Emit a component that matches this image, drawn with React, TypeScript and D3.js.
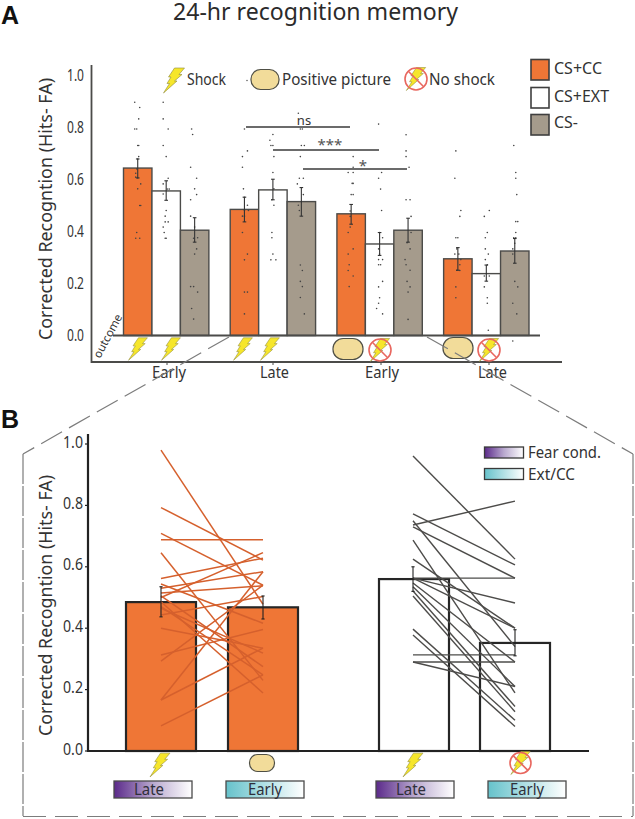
import React from "react";
import * as d3 from "d3";

const groupsA = ["Early", "Late", "Early", "Late"];
const seriesA = ["CS+CC", "CS+EXT", "CS-"];
const valuesCC = [0.644, 0.485, 0.468, 0.295];
const valuesEXT = [0.556, 0.56, 0.352, 0.238];
const valuesMinus = [0.405, 0.515, 0.405, 0.325];
const errCC = [[0.606, 0.679], [0.437, 0.532], [0.428, 0.504], [0.251, 0.338]];
const errEXT = [[0.52, 0.595], [0.522, 0.601], [0.308, 0.396], [0.209, 0.271]];
const errMinus = [[0.359, 0.453], [0.459, 0.569], [0.359, 0.451], [0.278, 0.373]];
const yTicks = [0, 0.2, 0.4, 0.6, 0.8, 1];

// scattered subjects: [horizontal jitter, value]
const dotsCC1 = [[-3,.897],[2,.877],[1,.833],[-3,.794],[-1,.794],[0,.731],[1,.731],[1,.688],[0,.679],[-1,.641],[-2,.624],[-2,.609],[0,.606],[3,.583],[0,.564],[2,.5],[3,.5],[-1,.396],[-2,.374],[2,.374]];
const dotsEXT1 = [[-3,.897],[-3,.833],[2,.794],[-3,.731],[0,.688],[2,.605],[-3,.583],[1,.563],[3,.563],[-3,.544],[0,.481],[-1,.459],[-1,.437],[2,.437],[-3,.417],[-2,.396],[-1,.374],[0,.374]];
const dotsMin1 = [[-3,.794],[-2,.773],[-4,.647],[2,.605],[0,.564],[2,.542],[-4,.522],[-4,.459],[0,.417],[3,.376],[-1,.374],[2,.333],[0,.313],[-4,.188],[-1,.188],[3,.167],[-3,.104],[-1,.063]];
const dotsCC2 = [[0,.794],[3,.71],[-2,.688],[-2,.647],[-1,.564],[0,.532],[3,.501],[0,.481],[4,.481],[-2,.459],[0,.459],[-2,.396],[3,.313],[0,.291],[0,.167],[3,.167],[0,.083]];
const dotsEXT2 = [[0,.773],[-3,.751],[-2,.731],[0,.731],[1,.688],[0,.627],[1,.564],[-1,.522],[1,.501],[-1,.396],[-1,.376],[0,.313],[-2,.291],[3,.291]];
const dotsMin2 = [[-3,.855],[-1,.794],[1,.794],[0,.731],[3,.731],[-1,.688],[-2,.605],[2,.605],[-4,.583],[2,.542],[-3,.501],[-2,.481],[-1,.271],[1,.25],[-1,.208],[1,.188],[-1,.146],[3,.083]];
const dotsCC3 = [[2,.688],[2,.647],[-3,.627],[2,.627],[1,.585],[2,.585],[0,.542],[2,.542],[-1,.479],[-1,.458],[-1,.417],[-3,.396],[2,.333],[-3,.313],[-2,.272],[-3,.25],[2,.229],[-2,.188]];
const dotsEXT3 = [[-1,.813],[2,.627],[-1,.605],[1,.563],[2,.481],[0,.396],[3,.376],[-1,.333],[0,.313],[-1,.292],[3,.292],[-1,.272],[1,.272],[3,.208],[-1,.187],[0,.145],[-1,.124],[-3,.104],[3,.083]];
const dotsMin3 = [[-2,.772],[-2,.71],[-2,.688],[1,.647],[-2,.522],[2,.522],[3,.458],[3,.396],[-1,.357],[2,.333],[-3,.292],[-2,.272],[2,.251],[-1,.208],[2,.187],[0,.167],[0,.062]];
const dotsCC4 = [[-2,.71],[-3,.605],[3,.481],[2,.458],[-2,.376],[0,.376],[-1,.333],[-3,.313],[1,.313],[3,.292],[2,.272],[-1,.251],[2,.25],[-2,.187],[-2,.145]];
const dotsEXT4 = [[3,.481],[-2,.458],[1,.396],[-1,.376],[-1,.333],[2,.313],[-1,.292],[1,.272],[3,.229],[-2,.229],[-2,.187],[1,.145],[1,.124],[2,.02]];
const dotsMin4 = [[-1,.731],[1,.627],[1,.605],[2,.542],[1,.438],[3,.438],[1,.396],[-1,.376],[1,.376],[0,.355],[-2,.333],[-2,.313],[0,.208],[3,.187],[-2,.124],[2,.083],[-2,-.021]];

const barsB = ["Late", "Early", "Late", "Early"];
const meansB = [0.485, 0.468, 0.56, 0.352];
const errsB = [[0.437, 0.535], [0.43, 0.505], [0.52, 0.6], [0.31, 0.395]];
const orangePairs = [[.98,.478],[.793,.622],[.709,.54],[.688,.688],[.646,.23],[.562,.628],[.544,.416],[.53,.584],[.515,.538],[.505,.275],[.5,.646],[.486,.189],[.47,.248],[.465,.319],[.443,.503],[.40,.335],[.313,.396],[.293,.54],[.166,.584],[.166,.335],[.082,.248]];
const grayPairs = [[.961,.625],[.772,.606],[.75,.34],[.736,.814],[.73,.563],[.687,.189],[.625,.40],[.563,.563],[.563,.482],[.563,.40],[.547,.29],[.535,.21],[.521,.145],[.505,.128],[.397,.10],[.378,.08],[.313,.313],[.29,.29],[.29,.21]];

const sigLabels = ["ns", "***", "*"];

const FONT = "'Noto Sans', sans-serif";
const ORANGE = "#EF7636";
const TAUPE = "#A59B8C";
const EDGE = "#4b4b49";
const TEXT = "#333333";

const yA = d3.scaleLinear().domain([0, 1]).range([335.5, 75.5]);
const yB = d3.scaleLinear().domain([0, 1]).range([751, 444]);
const groupX = d3.scaleBand<number>().domain(d3.range(4)).range([123.5, 529]).paddingInner(0.2).paddingOuter(0);
const seriesX = d3.scaleBand<string>().domain(seriesA).range([0, groupX.bandwidth()]);
const barXB = d3.scaleOrdinal<number, number>().domain([0, 1, 2, 3]).range([126, 228, 379, 480]);
const lineXB = d3.scaleOrdinal<number, number>().domain([0, 1, 2, 3]).range([161, 263, 413, 515]);
const pairLine = d3.line<[number, number]>();

const Bolt = ({ cx, cy, s = 1 }: { cx: number; cy: number; s?: number }) => (
  <path
    transform={`translate(${cx},${cy}) scale(${s}) translate(-10.5,-12.5)`}
    d="M11,0 L21,0 L15.5,6.5 L18.5,6.5 L11,13 L13.5,13 L0,25 L6,15.5 L3.5,15.5 L7.5,9 L5,9 Z"
    fill="#F6E62B"
    stroke="#8f8a3a"
    strokeWidth={0.6}
  />
);
const Oval = ({ cx, cy, w, h }: { cx: number; cy: number; w: number; h: number }) => (
  <rect x={cx - w / 2} y={cy - h / 2} width={w} height={h} rx={h * 0.48} fill="#F2DC9A" stroke="#4f4f45" strokeWidth={1.2} />
);
const NoShock = ({ cx, cy, r = 11 }: { cx: number; cy: number; r?: number }) => (
  <g>
    <Bolt cx={cx} cy={cy} s={0.92} />
    <circle cx={cx} cy={cy} r={r} fill="none" stroke="#E8675F" strokeWidth={1.6} />
    <line x1={cx - r * 0.7} y1={cy - r * 0.7} x2={cx + r * 0.7} y2={cy + r * 0.7} stroke="#E8675F" strokeWidth={1.6} />
  </g>
);
const ErrBar = ({ x, lo, hi, c = "#333", cap = 1.8 }: { x: number; lo: number; hi: number; c?: string; cap?: number }) => (
  <g stroke={c} strokeWidth={1.1}>
    <line x1={x} x2={x} y1={lo} y2={hi} />
    <line x1={x - cap} x2={x + cap} y1={lo} y2={lo} />
    <line x1={x - cap} x2={x + cap} y1={hi} y2={hi} />
  </g>
);
const Fit = ({ w, ...p }: any) => <text textLength={w} lengthAdjust="spacingAndGlyphs" {...p} />;

export default function App() {
  const valuesA = [valuesCC, valuesEXT, valuesMinus];
  const errsA = [errCC, errEXT, errMinus];
  const fills = [ORANGE, "#ffffff", TAUPE];
  const dotsA = [
    [dotsCC1, dotsEXT1, dotsMin1],
    [dotsCC2, dotsEXT2, dotsMin2],
    [dotsCC3, dotsEXT3, dotsMin3],
    [dotsCC4, dotsEXT4, dotsMin4],
  ];
  return (
    <svg width={635} height={819} style={{ position: "absolute", left: 0, top: 0, background: "#fff" }} fontFamily={FONT}>
      <defs>
        <linearGradient id="gPurple"><stop offset="0" stopColor="#5B2A8A" /><stop offset="0.5" stopColor="#B9A9CF" /><stop offset="1" stopColor="#ffffff" /></linearGradient>
        <linearGradient id="gTeal"><stop offset="0" stopColor="#66C2CB" /><stop offset="1" stopColor="#ffffff" /></linearGradient>
      </defs>

      <text x={1} y={24} fontFamily="'Liberation Sans', sans-serif" fontWeight="bold" fontSize={25} fill="#111">A</text>
      <text x={1} y={428} fontFamily="'Liberation Sans', sans-serif" fontWeight="bold" fontSize={25} fill="#111">B</text>
      <Fit x={173} y={20} w={285} fontSize={23} fill="#2b2b2b">24-hr recognition memory</Fit>

      {/* Panel A axes */}
      <path d="M91.5,65 V362 H562" fill="none" stroke={EDGE} strokeWidth={1.8} />
      {yTicks.map((t) => (
        <Fit key={t} x={67} y={yA(t) + 5} w={17} fontSize={16} fill={TEXT}>{t.toFixed(1)}</Fit>
      ))}
      <Fit transform="translate(52,340) rotate(-90)" x={0} y={0} w={262} fontSize={18} fill={TEXT}>Corrected Recogntion (Hits- FA)</Fit>

      {/* Panel A bars */}
      {groupsA.map((g, gi) =>
        seriesA.map((s, si) => (
          <rect key={`${gi}${s}`} x={groupX(gi)! + seriesX(s)!} y={yA(valuesA[si][gi])} width={seriesX.bandwidth()} height={yA(0) - yA(valuesA[si][gi])} fill={fills[si]} stroke={EDGE} strokeWidth={1.4} />
        ))
      )}
      <line x1={113} x2={540} y1={yA(0)} y2={yA(0)} stroke={EDGE} strokeWidth={2} />
      {groupsA.map((g, gi) =>
        seriesA.map((s, si) => {
          const cx = groupX(gi)! + seriesX(s)! + seriesX.bandwidth() / 2;
          return (
            <g key={`${gi}${s}d`}>
              {dotsA[gi][si].map((d, i) => (
                <circle key={i} cx={cx + d[0]} cy={yA(d[1])} r={0.8} fill="#444" />
              ))}
              <ErrBar x={cx} lo={yA(errsA[si][gi][0])} hi={yA(errsA[si][gi][1])} />
            </g>
          );
        })
      )}
      {groupsA.map((g, gi) => {
        const tx = [167, 273, 381, 489][gi];
        const lx = [152, 260, 365, 478][gi];
        return (
          <g key={gi}>
            <line x1={tx} x2={tx} y1={362} y2={365} stroke={EDGE} />
            <Fit x={lx} y={378} w={g === "Early" ? 34 : 29} fontSize={16} fill={TEXT}>{g}</Fit>
          </g>
        );
      })}
      <text transform="translate(100,359) rotate(-62)" fontSize={11.5} fill={TEXT}>outcome</text>

      {/* significance */}
      <line x1={246} x2={350} y1={127} y2={127} stroke="#3a3a3a" strokeWidth={1.6} />
      <line x1={273} x2={379} y1={150} y2={150} stroke="#3a3a3a" strokeWidth={1.6} />
      <line x1={303} x2={407} y1={169} y2={169} stroke="#3a3a3a" strokeWidth={1.6} />
      <text x={304} y={125} textAnchor="middle" fontSize={13} fill={TEXT}>{sigLabels[0]}</text>
      <text x={330} y={150} textAnchor="middle" fontSize={15} fill="#555">{sigLabels[1]}</text>
      <text x={363} y={171} textAnchor="middle" fontSize={15} fill="#555">{sigLabels[2]}</text>

      {/* Panel A icons */}
      <Bolt cx={174} cy={80.5} />
      <Fit x={187} y={85} w={39} fontSize={16} fill={TEXT}>Shock</Fit>
      <circle cx={247} cy={80.5} r={0.7} fill="#444" />
      <Oval cx={265} cy={79.5} w={28} h={20} />
      <Fit x={282} y={85} w={109} fontSize={16} fill={TEXT}>Positive picture</Fit>
      <NoShock cx={416} cy={79} />
      <Fit x={429} y={85} w={66} fontSize={16} fill={TEXT}>No shock</Fit>
      {[138, 171, 243, 270].map((x) => <Bolt key={x} cx={x} cy={349} s={0.9} />)}
      <Oval cx={348} cy={349} w={30} h={21} />
      <Oval cx={458} cy={348} w={30} h={21} />
      <NoShock cx={380} cy={350} />
      <NoShock cx={489} cy={350} />

      {/* Panel A legend */}
      {seriesA.map((s, i) => {
        const top = [59.5, 87.5, 114.5][i];
        return (
          <g key={s}>
            <rect x={531} y={top} width={18} height={20.5} fill={fills[i]} stroke="#3f3f3f" strokeWidth={1.6} />
            <Fit x={554} y={[74, 102, 128][i]} w={[48, 55, 24][i]} fontSize={16} fill={TEXT}>{s}</Fit>
          </g>
        );
      })}

      {/* dashed frame */}
      <path d="M229,337 L23,454" fill="none" stroke="#7c7c7c" strokeWidth={1.2} strokeDasharray="24 8" />
      <path d="M427,337 L633,454" fill="none" stroke="#7c7c7c" strokeWidth={1.2} strokeDasharray="24 8" />
      <path d="M23,454 V816" fill="none" stroke="#7c7c7c" strokeWidth={1.2} strokeDasharray="30 2" />
      <path d="M633,454 V816" fill="none" stroke="#7c7c7c" strokeWidth={1.2} strokeDasharray="30 2" />
      <path d="M23,816.5 H633" fill="none" stroke="#7c7c7c" strokeWidth={1.2} strokeDasharray="23 9" />

      {/* Panel B axes */}
      {yTicks.map((t) => (
        <g key={t}>
          <line x1={85} x2={88} y1={yB(t)} y2={yB(t)} stroke="#222" strokeWidth={1.2} />
          <Fit x={63} y={yB(t) + 3.5} w={20} fontSize={16.5} fill={TEXT}>{t.toFixed(1)}</Fit>
        </g>
      ))}
      <Fit transform="translate(52,736) rotate(-90)" x={0} y={0} w={261} fontSize={18} fill={TEXT}>Corrected Recogntion (Hits- FA)</Fit>

      {/* Panel B bars */}
      {barsB.map((b, i) => (
        <rect key={i} x={barXB(i)} y={yB(meansB[i])} width={70} height={yB(0) - yB(meansB[i])} fill={i < 2 ? ORANGE : "none"} stroke="#262626" strokeWidth={2.2} />
      ))}
      <path d="M88,434 V751 H589" fill="none" stroke="#222" strokeWidth={2.2} />

      {/* paired lines */}
      {orangePairs.map((p, i) => (
        <path key={i} d={pairLine([[lineXB(0), yB(p[0])], [lineXB(1), yB(p[1])]])!} stroke="#D5602D" strokeWidth={1.5} fill="none" />
      ))}
      {grayPairs.map((p, i) => (
        <path key={i} d={pairLine([[lineXB(2), yB(p[0])], [lineXB(3), yB(p[1])]])!} stroke="#4d4c4a" strokeWidth={1.4} fill="none" />
      ))}
      {barsB.map((b, i) => (
        <ErrBar key={i} x={lineXB(i)} lo={yB(errsB[i][0])} hi={yB(errsB[i][1])} c="#222" cap={1.6} />
      ))}

      {/* Panel B icons and boxes */}
      <Bolt cx={160} cy={765} s={0.95} />
      <Oval cx={262} cy={763} w={25} h={17} />
      <Bolt cx={413} cy={765} s={0.95} />
      <NoShock cx={520.5} cy={763} r={10.5} />
      {barsB.map((b, i) => {
        const x = [114, 226, 376, 488][i];
        const wide = b === "Early";
        return (
          <g key={i}>
            <rect x={x} y={781} width={78} height={17} fill={i % 2 ? "url(#gTeal)" : "url(#gPurple)"} stroke="#4a4a4a" strokeWidth={1.3} />
            <Fit x={x + (wide ? 22 : 20)} y={795} w={wide ? 34 : 30} fontSize={16} fill="#2f2f3a">{b}</Fit>
          </g>
        );
      })}

      {/* Panel B legend */}
      <rect x={484.5} y={447} width={39} height={11} fill="url(#gPurple)" stroke="#3a3a3a" strokeWidth={1.3} />
      <rect x={484.5} y={468.5} width={39} height={11} fill="url(#gTeal)" stroke="#3a3a3a" strokeWidth={1.3} />
      <Fit x={528} y={458} w={73} fontSize={15.5} fill={TEXT}>Fear cond.</Fit>
      <Fit x={528} y={480} w={47} fontSize={15.5} fill={TEXT}>Ext/CC</Fit>
    </svg>
  );
}
